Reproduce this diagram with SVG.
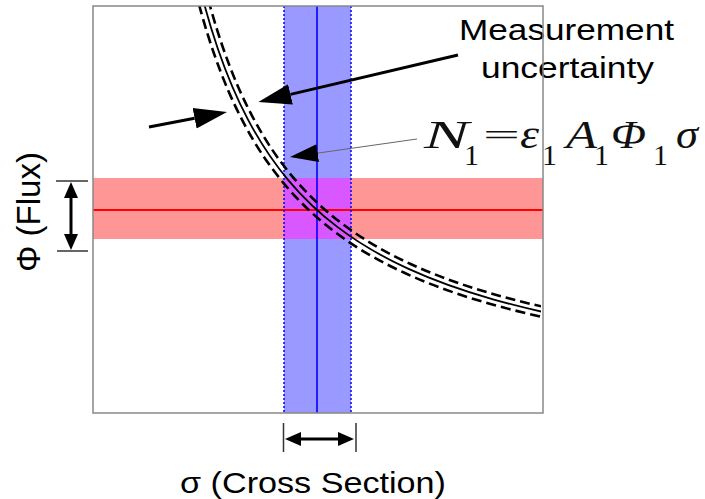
<svg xmlns="http://www.w3.org/2000/svg" xmlns:xlink="http://www.w3.org/1999/xlink" width="705" height="499" viewBox="0 0 705 499">
<style>
.lbl{font-family:"Liberation Sans",Arial,sans-serif;font-size:30px;fill:#000}
.mi{font-family:"Liberation Serif","Times New Roman",serif;font-style:italic;font-size:39px;fill:#111}
.mn{font-family:"Liberation Serif","Times New Roman",serif;font-size:30px;fill:#111}
.dash{fill:none;stroke:#000;stroke-width:2.6;stroke-dasharray:10 5}
.solid{fill:none;stroke:#000;stroke-width:1.8}
.tick{stroke:#333;stroke-width:1.5}
.thick{stroke:#000;stroke-width:3;fill:none}
</style>
<defs>
<clipPath id="frameClip"><rect x="93" y="6" width="448" height="407"/></clipPath>
<path id="hyp" d="M193,-41.72 C201.33,-3.83 209.67,24.97 218,49.22 C228,78.32 238,100.70 248,119.63 C261.33,144.87 274.67,163.87 288,179.81 C304.67,199.74 321.33,214.77 338,227.40 C361.33,245.08 384.67,257.95 408,268.64 C436.33,281.63 464.67,291.27 493,299.32 C513,305 533,309.85 553,314.15"/>
<marker id="big" markerUnits="userSpaceOnUse" viewBox="0 -12 34 24" markerWidth="34" markerHeight="24" refX="0" refY="0" orient="auto"><path d="M0,-10.5 L33,0 L0,10.5 z" fill="#000"/></marker>
<marker id="mid" markerUnits="userSpaceOnUse" viewBox="0 -10 30 20" markerWidth="30" markerHeight="20" refX="0" refY="0" orient="auto"><path d="M0,-9 L28,0 L0,9 z" fill="#000"/></marker>
<marker id="small" markerUnits="userSpaceOnUse" viewBox="0 -8 17 16" markerWidth="17" markerHeight="16" refX="0" refY="0" orient="auto-start-reverse"><path d="M0,-7 L16,0 L0,7 z" fill="#000"/></marker>
</defs>

<g id="bands">
<rect x="284" y="6" width="67" height="407" fill="#9999ff"/>
<rect x="93" y="178" width="450" height="61" fill="#ff9696"/>
<rect x="284" y="178" width="67" height="61" fill="#d957ff"/>
<line x1="93" y1="210" x2="543" y2="210" stroke="#ff0000" stroke-width="2"/>
<line x1="317" y1="6" x2="317" y2="413" stroke="#0000ff" stroke-width="1.6"/>
<line x1="284" y1="6" x2="284" y2="413" stroke="#0000ff" stroke-width="1.5" stroke-dasharray="2 2"/>
<line x1="351" y1="6" x2="351" y2="413" stroke="#0000ff" stroke-width="1.5" stroke-dasharray="2 2"/>
</g>

<g id="curves" clip-path="url(#frameClip)">
<use xlink:href="#hyp" href="#hyp" class="dash" transform="translate(98.5,407.5) scale(0.99244) translate(-93,-413)"/>
<use xlink:href="#hyp" href="#hyp" class="solid"/>
<use xlink:href="#hyp" href="#hyp" class="dash" transform="translate(87.5,418.5) scale(1.00754) translate(-93,-413)"/>
</g>

<g id="connectors">
<line x1="458" y1="55" x2="290.5" y2="94.4" class="thick" marker-end="url(#big)"/>
<line x1="149" y1="127" x2="194.6" y2="118.2" class="thick" marker-end="url(#big)"/>
<line x1="417" y1="139" x2="317.7" y2="153.1" stroke="#666" stroke-width="1" marker-end="url(#mid)"/>
<line x1="56" y1="181" x2="88" y2="181" class="tick"/>
<line x1="57" y1="251" x2="88" y2="251" class="tick"/>
<line x1="71" y1="198" x2="71" y2="234" class="thick" marker-start="url(#small)" marker-end="url(#small)"/>
<line x1="283.5" y1="423" x2="283.5" y2="452" class="tick"/>
<line x1="356" y1="423" x2="356" y2="452" class="tick"/>
<line x1="301" y1="439" x2="338" y2="439" class="thick" marker-start="url(#small)" marker-end="url(#small)"/>
</g>

<g id="label-measurement">
<text class="lbl" x="459" y="40" textLength="215" lengthAdjust="spacingAndGlyphs">Measurement</text>
<text class="lbl" x="481" y="78" textLength="173" lengthAdjust="spacingAndGlyphs">uncertainty</text>
</g>

<g id="formula">
<text class="mi" x="424" y="148" textLength="45" lengthAdjust="spacingAndGlyphs">N</text>
<text class="mn" x="464" y="165">1</text>
<text class="mn" x="483" y="145" font-size="44" textLength="37" lengthAdjust="spacingAndGlyphs">=</text>
<text class="mi" x="520" y="148" textLength="19" lengthAdjust="spacingAndGlyphs">ε</text>
<text class="mn" x="542" y="165">1</text>
<text class="mi" x="566" y="148" textLength="31" lengthAdjust="spacingAndGlyphs">A</text>
<text class="mn" x="594" y="165">1</text>
<text class="mi" x="611" y="148" textLength="35" lengthAdjust="spacingAndGlyphs">Φ</text>
<text class="mn" x="653" y="165">1</text>
<text class="mi" x="676" y="148" textLength="22" lengthAdjust="spacingAndGlyphs">σ</text>
</g>

<g id="axis-x">
<text class="lbl" x="180" y="493" textLength="266" lengthAdjust="spacingAndGlyphs">σ (Cross Section)</text>
</g>
<g id="axis-y">
<text class="lbl" transform="translate(40,272) scale(1.12,1) rotate(-90)" x="0" y="0" textLength="120" lengthAdjust="spacingAndGlyphs">Φ (Flux)</text>
</g>

<g id="frame">
<rect x="93" y="6" width="450" height="407" fill="none" stroke="#888" stroke-width="1.5"/>
</g>
</svg>
